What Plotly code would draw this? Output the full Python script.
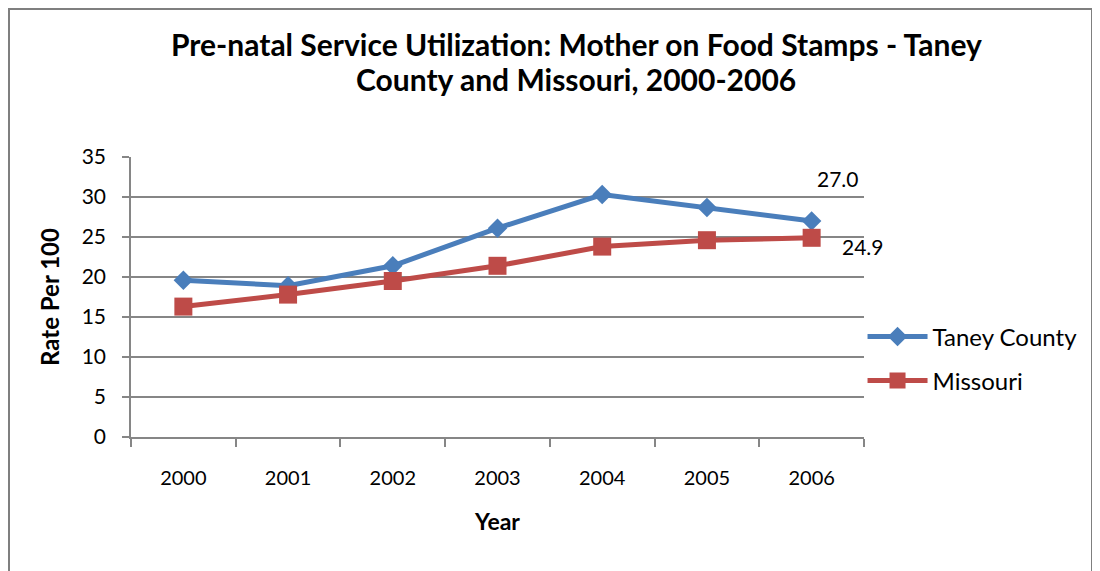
import plotly.graph_objects as go

years = [2000, 2001, 2002, 2003, 2004, 2005, 2006]
taney = [19.6, 18.9, 21.4, 26.1, 30.3, 28.7, 27.0]
missouri = [16.3, 17.8, 19.5, 21.4, 23.8, 24.6, 24.9]
y_ticks = [0, 5, 10, 15, 20, 25, 30, 35]
title_lines = ["Pre-natal Service Utilization: Mother on Food Stamps - Taney",
               "County and Missouri, 2000-2006"]

BLUE = "#4A7EBB"
RED = "#BE4B48"
GRID = "#868686"
FONT = "Lato"

# page body has an 8px margin; plot area targets: x 131..864, y 157..437
OFF = 8

fig = go.Figure()
fig.add_trace(go.Scatter(
    x=years, y=taney, name="Taney County", mode="lines+markers",
    line=dict(color=BLUE, width=5),
    marker=dict(symbol="diamond", size=15, color=BLUE),
    legend="legend",
))
fig.add_trace(go.Scatter(
    x=years, y=missouri, name="Missouri", mode="lines+markers",
    line=dict(color=RED, width=5),
    marker=dict(symbol="square", size=18, color=RED),
    legend="legend2",
))

# data labels for last points
fig.add_annotation(x=years[-1], y=taney[-1], text=f"{taney[-1]:.1f}", showarrow=False,
                   xshift=26, yshift=43, font=dict(family=FONT, size=21, color="black"))
fig.add_annotation(x=years[-1], y=missouri[-1], text=f"{missouri[-1]:.1f}", showarrow=False,
                   xshift=51, yshift=-9, font=dict(family=FONT, size=21, color="black"))

# title (two lines)
for line, ypix in zip(title_lines, [44, 79]):
    fig.add_annotation(xref="paper", yref="paper", x=(576 - 131) / 733, y=(437 - ypix) / 280,
                       text=f"<b>{line}</b>",
                       showarrow=False, xanchor="center", yanchor="middle",
                       font=dict(family=FONT, size=30, color="black"))

# chart border
fig.add_shape(type="rect", xref="paper", yref="paper",
              x0=-122 / 733, x1=961 / 733, y0=-200 / 280, y1=428 / 280,
              line=dict(color="#7F7F7F", width=2), layer="below")

fig.update_layout(
    width=1100, height=571,
    margin=dict(l=131 - OFF, r=1100 - 864 + OFF, t=157 - OFF, b=571 - 437 + OFF, autoexpand=False),
    paper_bgcolor="white", plot_bgcolor="white",
    font=dict(family=FONT, size=20, color="black"),
    showlegend=True,
    legend=dict(x=0.998, y=(437 - 337) / 280, xanchor="left", yanchor="middle",
                font=dict(family=FONT, size=24, color="black"),
                bgcolor="rgba(0,0,0,0)", itemwidth=60),
    legend2=dict(x=0.998, y=(437 - 381) / 280, xanchor="left", yanchor="middle",
                 font=dict(family=FONT, size=24, color="black"),
                 bgcolor="rgba(0,0,0,0)", itemwidth=60),
    xaxis=dict(
        range=[1999.5, 2006.5], tickvals=years, ticktext=[str(y) for y in years],
        ticks="", showline=True, linecolor=GRID, linewidth=1.5,
        showgrid=False, zeroline=False, tickangle=0, automargin=False,
        tickfont=dict(family=FONT, size=20), ticklabelstandoff=22,
        minor=dict(ticks="outside", tick0=1999.5, dtick=1, ticklen=8,
                   tickcolor=GRID, tickwidth=1.5, showgrid=False),
        title=dict(text="<b>Year</b>", font=dict(family=FONT, size=23), standoff=26),
    ),
    yaxis=dict(
        range=[0, 35], tickvals=y_ticks, ticks="outside", ticklen=7,
        tickcolor=GRID, tickwidth=1.5, showline=True, linecolor=GRID, linewidth=1.5,
        showgrid=True, gridcolor=GRID, gridwidth=1.5, zeroline=False, automargin=False,
        tickfont=dict(family=FONT, size=21), ticklabelstandoff=12,
        title=dict(text="<b>Rate Per 100</b>", font=dict(family=FONT, size=24), standoff=15),
    ),
)

fig.write_html("out.html")
